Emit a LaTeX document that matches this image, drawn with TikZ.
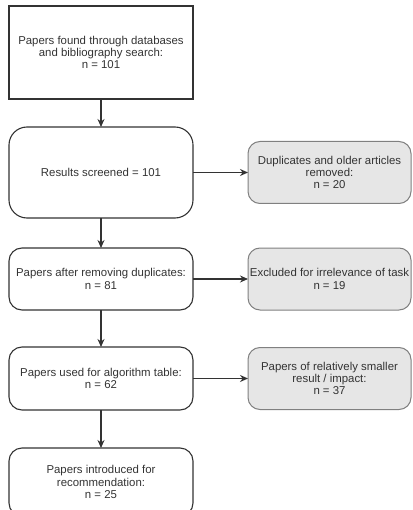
\documentclass[tikz,border=0pt]{standalone}
\usepackage{fontspec}
\setmainfont{Liberation Sans}
\usetikzlibrary{arrows.meta, positioning}
\definecolor{ink}{HTML}{333333}
\definecolor{greyfill}{HTML}{E6E6E6}
\definecolor{greyline}{HTML}{808080}
\begin{document}
\begin{tikzpicture}[x=1pt,y=-1pt,font=\fontsize{11.4}{12.2}\selectfont,text=ink,stage/.style={draw=ink,line width=1.1pt,align=center,minimum width=184pt,inner sep=0pt,outer sep=0pt,rounded corners=13pt},removed/.style={draw=greyline,fill=greyfill,line width=1pt,align=center,minimum width=163pt,minimum height=62pt,inner sep=0pt,outer sep=0pt,rounded corners=12pt},arrow/.style={draw=ink,line width=1.2pt,-{Stealth[length=8pt,width=7pt]}}]
\useasboundingbox (0,0) rectangle (412,510);
\node[stage, sharp corners, minimum height=93pt] (found) at (101,52.5){Papers found through databases\\and bibliography search:\\n = 101};
\node[stage, below=28pt of found, minimum height=91pt, rounded corners=18pt] (screened){Results screened = 101};
\node[stage, below=30pt of screened, minimum height=62pt] (dedup){Papers after removing duplicates:\\n = 81};
\node[stage, below=37pt of dedup, minimum height=63pt] (algo){Papers used for algorithm table:\\n = 62};
\node[stage, below=38pt of algo, minimum height=68pt] (recom){Papers introduced for\\recommendation:\\n = 25};
\node[removed, right=55pt of screened] (dupl){Duplicates and older articles\\removed:\\n = 20};
\node[removed, right=55pt of dedup] (irrel){Excluded for irrelevance of task\\n = 19};
\node[removed, right=55pt of algo] (small){Papers of relatively smaller\\result / impact:\\n = 37};
\draw[arrow] (found) -- (screened); \draw[arrow] (screened) -- (dedup); \draw[arrow] (dedup) -- (algo); \draw[arrow] (algo) -- (recom); \draw[arrow] (screened) -- (dupl); \draw[arrow] (dedup) -- (irrel); \draw[arrow] (algo) -- (small);
\end{tikzpicture}
\end{document}
